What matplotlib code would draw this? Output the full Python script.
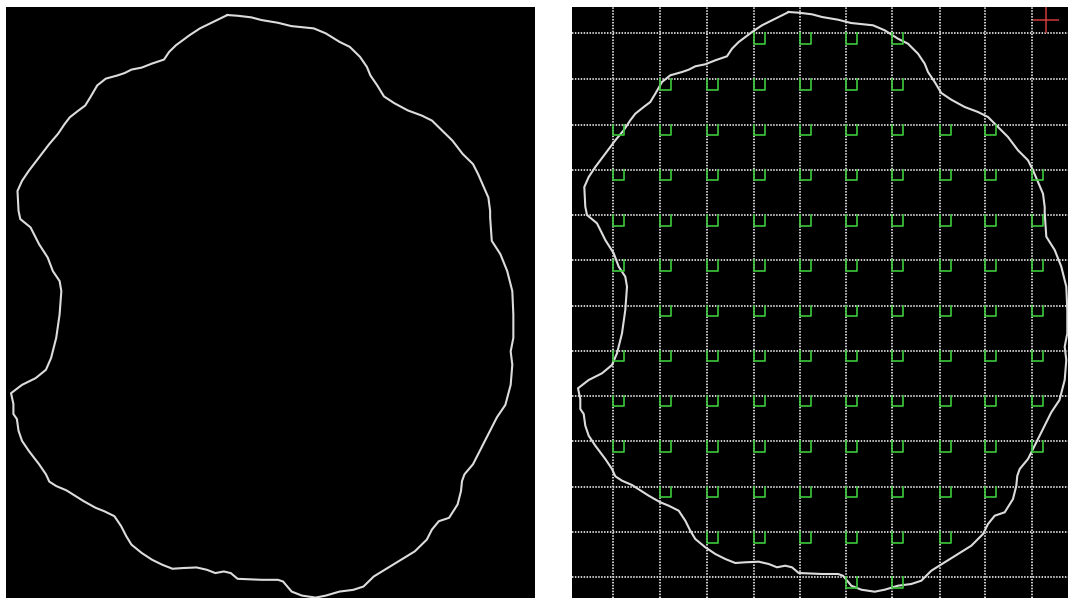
import matplotlib
matplotlib.use('Agg')
import matplotlib.pyplot as plt
import numpy as np

# Contour du contour (pixels du panneau de droite)
contour_x = [216.7, 226.7, 240, 250, 266, 279, 301, 312.7, 326, 336, 346, 352.7, 356,
             362.7, 369.3, 379.3, 392.7, 406, 416, 422.7, 436, 446, 456, 461, 466, 471,
             472.7, 472.7, 474.3, 482.7, 489.3, 494.3, 495.3, 495.3, 492.7, 494.3, 492.7,
             487.5, 479.3, 469.3, 462.7, 456, 447.7, 445.3, 444.3, 441, 432.7, 422.7, 416,
             411, 399.3, 386, 372.7, 359.3, 349.3, 339.3, 326, 312.7, 302.7, 289.3, 279.3,
             271, 266, 250, 226.7, 220, 213.3, 205, 196.7, 186.7, 173.3, 163.3, 153.3,
             143.3, 133.3, 123.3, 118.3, 113.3, 106.7, 96.7, 88.3, 76.7, 60, 50, 43.3, 40,
             33.3, 23.3, 16.7, 13.3, 11.7, 8.3, 8.3, 6, 16.7, 30, 40, 45, 50, 53.3, 55,
             53.3, 46.7, 41.7, 33.3, 25, 15, 13.3, 12.3, 16.7, 23.3, 33.3, 43.3, 51.7,
             58.3, 63.3, 71.7, 78.3, 83.3, 90, 98.3, 110, 116.7, 123.3, 133.3, 143.3, 155,
             160, 166.7, 180, 190, 200, 210, 216.7]
contour_y = [5, 5.7, 7.3, 10, 12.7, 16, 18.3, 23.3, 31.7, 36.7, 46.7, 56.7, 65,
             75, 86, 92.7, 100, 105, 110, 116.7, 130, 143.3, 153.3, 163.3, 175, 186.7,
             200, 206.3, 229.7, 243, 259.7, 279.7, 303, 326.3, 339.7, 353, 373,
             393, 405.3, 425.3, 438.7, 452, 462, 468.7, 478.7, 492, 505.3, 508.7, 517,
             527, 538.7, 547, 555.3, 563.7, 573.7, 577, 578.7, 582.7, 584.7, 582.7, 578.7,
             568.7, 567, 567, 566, 560.3, 558.7, 560.3, 557, 554.7, 555.3, 556, 552,
             547, 540.3, 532, 523.7, 513.7, 503.7, 498.7, 495.3, 488.7, 478, 473.7, 469.3, 462,
             452, 438.7, 428.7, 418.7, 407, 402, 392, 381.3, 373, 366.3, 358, 346.3, 326.3, 303, 279.7,
             269.7, 259.7, 246.3, 233, 216.3, 208, 199.7, 180, 170, 160, 146.7, 133.3, 123.3,
             113.3, 106.7, 100, 95, 86.7, 75, 68.3, 65, 62.7, 59.3, 57.3, 53.3, 49.3,
             41.7, 35, 25, 18.3, 13.3, 8.3, 5]

# Grille (positions des lignes pointillées)
grid_cols = [41, 88, 134.5, 181.5, 227.5, 274, 320, 367.5, 413, 460]
grid_rows = [26, 72, 117.5, 162.5, 208, 253, 298.5, 343.5, 388.5, 434, 479.5, 525, 570]

# Carrés verts: première et dernière colonne occupée pour chaque ligne
row_first_col = [3, 1, 0, 0, 0, 0, 1, 0, 0, 0, 1, 2, 5]
row_last_col = [6, 6, 8, 9, 9, 9, 9, 9, 9, 9, 8, 7, 6]

# Marqueur rouge
cross_x = 474
cross_y = 13

W, H = 1070, 599
fig = plt.figure(figsize=(W / 100, H / 100), dpi=100)
fig.patch.set_facecolor('white')


def make_ax(x0, y0, x1, y1):
    ax = fig.add_axes([x0 / W, 1 - y1 / H, (x1 - x0) / W, (y1 - y0) / H])
    ax.set_facecolor('black')
    ax.set_xticks([])
    ax.set_yticks([])
    for s in ax.spines.values():
        s.set_visible(False)
    return ax


# Panneau gauche: contour seul
ax1 = make_ax(6, 7, 535, 598)
ax1.plot(contour_x, contour_y, color='#dcdcdc', lw=1.5, solid_joinstyle='round')
ax1.set_xlim(1.1, 516.4)
ax1.set_ylim(585.1, -3.0)

# Panneau droit: grille + contour + carrés
ax2 = make_ax(572, 7, 1068, 598)
for gx in grid_cols:
    ax2.axvline(gx, color='#d0d0d0', lw=1.4, ls=(0, (0.75, 0.75)), zorder=1)
for gy in grid_rows:
    ax2.axhline(gy, color='#d0d0d0', lw=1.4, ls=(0, (0.75, 0.75)), zorder=1)

ax2.plot(contour_x, contour_y, color='#dcdcdc', lw=1.5, solid_joinstyle='round', zorder=2)

sq_w, sq_h = 11, 10.5
for r, (c0, c1) in enumerate(zip(row_first_col, row_last_col)):
    gy = grid_rows[r]
    for c in range(c0, c1 + 1):
        gx = grid_cols[c]
        ax2.plot([gx, gx, gx + sq_w, gx + sq_w], [gy, gy + sq_h, gy + sq_h, gy],
                 color='#3cc83c', lw=1.2, zorder=3)

ax2.plot([cross_x], [cross_y], marker='+', ms=18.7, mew=1.1, color='#d03a3a', zorder=4)
ax2.set_xlim(0, 496)
ax2.set_ylim(591, 0)

plt.savefig('out.png', dpi=100)
plt.close()
